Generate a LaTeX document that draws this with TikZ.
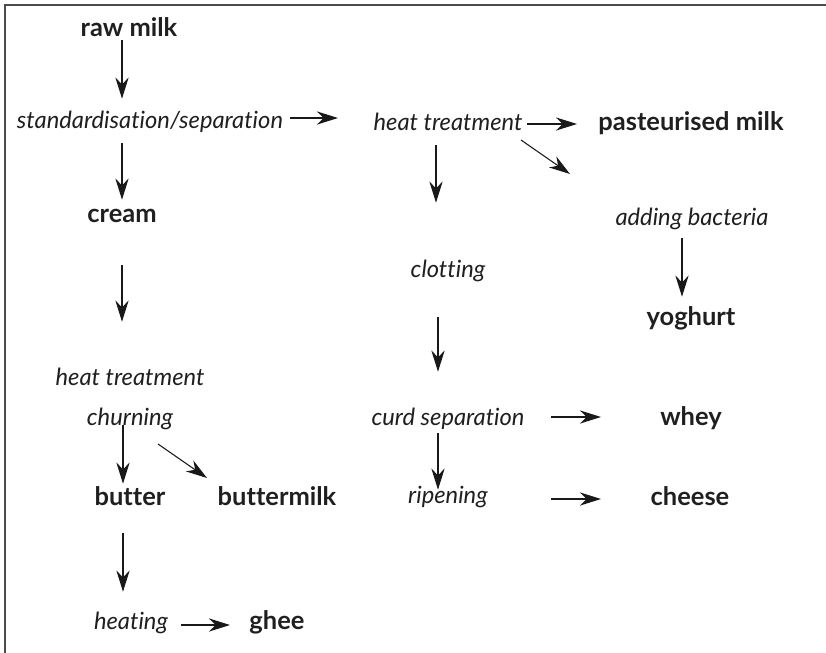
\documentclass[tikz,border=0pt]{standalone}
\usepackage{fontspec}
\setmainfont{Lato}[Ligatures={NoCommon}]
\usetikzlibrary{arrows.meta}

\begin{document}
\begin{tikzpicture}[x=0.02cm,y=-0.02cm,>={Stealth[length=12pt,width=7.5pt,inset=3.8pt]},
    flow/.style={->,line width=0.6pt,color=black!90},
    base node/.style={anchor=base,inner sep=0pt,text height=8.5pt,text depth=2.835pt,text=black!88},
    product node/.style={base node,font=\bfseries\fontsize{14.5}{16}\selectfont},
    process node/.style={base node,font=\itshape\fontsize{13.5}{15}\selectfont}]
                        \useasboundingbox (0,0) rectangle (826,653);
                        \draw[line width=1.1pt,color=black!70] (5,653) -- (5,5) -- (826,5);

                        % left column
                        \node[product node] (raw) at (129,36) {raw milk};
                        \node[process node] (std) at (150,128) {standardisation/separation};
                        \node[product node] (cream) at (122,222) {cream};
                        \node[process node] (heatL) at (130,385) {heat treatment};
                        \node[process node] (churn) at (130,425) {churning};
                        \node[product node] (butter) at (130,505) {butter};
                        \node[product node] (bmilk) at (277,505) {buttermilk};
                        \node[process node] (heating) at (131,629) {heating};
                        \node[product node] (ghee) at (277,629) {ghee};

                        % middle column
                        \node[process node] (heatM) at (448,130) {heat treatment};
                        \node[process node] (clot) at (448,277) {clotting};
                        \node[process node] (curd) at (448,425) {curd separation};
                        \node[process node] (rip) at (448,503) {ripening};

                        % right column
                        \node[product node] (past) at (691,130) {pasteurised milk};
                        \node[process node] (add) at (692,225) {adding bacteria};
                        \node[product node] (yog) at (691,325) {yoghurt};
                        \node[product node] (whey) at (691,425) {whey};
                        \node[product node] (cheese) at (690,505) {cheese};

                        \path[flow]
                                ([shift={(-7,-1)}]raw.south) edge ([shift={(-28,-14)}]std.north)
                                ([shift={(-28,10)}]std.south) edge ([shift={(0,-7)}]cream.north)
                                ([shift={(0,38)}]cream.south) edge ([shift={(-8,-48)}]heatL.north)
                                ([shift={(-7,-5)}]churn.south) edge ([shift={(-7,-6)}]butter.north)
                                ([shift={(-7,23)}]butter.south) edge ([shift={(-8,-22)}]heating.north)
                                ([shift={(28,19)}]churn.base) edge ([shift={(-70,-27)}]bmilk.base)
                                ([shift={(50,-4)}]heating.base) edge ([shift={(-47,-4)}]ghee.base)

                                ([shift={(140,-10)}]std.base) edge ([shift={(-110,-12)}]heatM.base)
                                ([shift={(-12,10)}]heatM.south) edge ([shift={(-12,-59)}]clot.north)
                                ([shift={(-10,35)}]clot.south) edge ([shift={(-10,-38)}]curd.north)
                                ([shift={(-10,3)}]curd.south) edge ([shift={(-10,2)}]rip.north)

                                ([shift={(79,-6)}]heatM.base) edge ([shift={(-114,-6)}]past.base)
                                ([shift={(73,10)}]heatM.base) edge ([shift={(-122,-51)}]add.base)
                                ([shift={(-10,8)}]add.south) edge ([shift={(-9,-13)}]yog.north)
                                ([shift={(103,-8)}]curd.base) edge ([shift={(-90,-8)}]whey.base)
                                ([shift={(103,-4)}]rip.base) edge ([shift={(-89,-6)}]cheese.base)
                            ;
                    \end{tikzpicture}
\end{document}
